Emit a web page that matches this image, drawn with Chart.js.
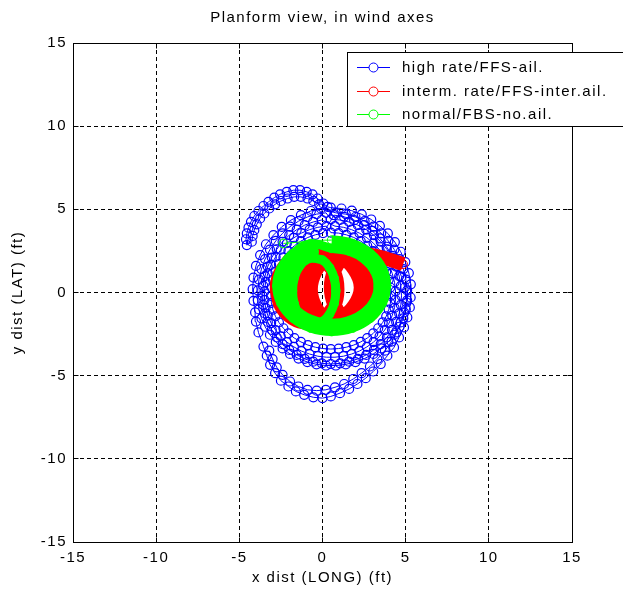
<!DOCTYPE html>
<html lang="en">
<head>
<meta charset="UTF-8" />
<title>Planform view, in wind axes</title>
<script src="https://cdn.jsdelivr.net/npm/chart.js"></script>
<style>
  * { margin: 0; padding: 0; box-sizing: border-box; }
  body { background: #fff; width: 623px; height: 593px; overflow: hidden; }
  #wrap { position: relative; width: 623px; height: 593px; }
</style>
</head>
<body>
<div id="wrap"><canvas id="planform" width="623" height="593"></canvas></div>
<script>
  // axis ticks (ft)
  const xTicks = [-15, -10, -5, 0, 5, 10, 15];
  const yTicks = [-15, -10, -5, 0, 5, 10, 15];

  const chartTitle = "Planform view, in wind axes";
  const seriesNames = ["high rate/FFS-ail.", "interm. rate/FFS-inter.ail.", "normal/FBS-no.ail."];

  // high rate / FFS-ail. : start hook (in and back out), then the passes round the centre
  const highX = [
    -0.2, -0.55, -0.9, -1.3, -1.7, -2.1, -2.5, -2.85, -3.2, -3.5, -3.75, -3.95, -4.1, -4.2, -4.25,
    -4.55, -4.6, -4.55, -4.45, -4.3, -4.1, -3.85, -3.55, -3.25, -2.9, -2.55, -2.15, -1.75, -1.35, -0.95, -0.6, -0.3, 0.05, 0.3,
    0.5, 1.14, 1.76, 2.36, 2.93, 3.45, 3.93, 4.35, 4.7, 4.98, 5.19, 5.31,
    5.3, 5.25, 5.1, 4.9, 4.6, 4.3, 3.9, 3.5, 3.05, 2.6, 2.1, 1.6, 1.05, 0.5,
    0.0, -0.55, -1.1, -1.6, -2.05, -2.5, -2.85, -3.15, -3.35, -3.55, -3.85,
    -4.0, -4.05, -4.15, -4.2, -4.15, -4.0, -3.75, -3.4, -2.95, -2.45, -1.9, -1.3, -0.7, -0.1,
    0.8, 1.4, 1.98, 2.53, 3.06, 3.53, 3.96, 4.32, 4.63, 4.86, 5.01, 5.09,
    5.09, 5.01, 4.86, 4.63, 4.32, 3.96, 3.53, 3.06, 2.53, 1.98, 1.4, 0.8,
    0.21, -0.36, -0.91, -1.44, -1.95, -2.4, -2.81, -3.16, -3.45, -3.67, -3.82, -3.89,
    -3.89, -3.82, -3.67, -3.45, -3.16, -2.81, -2.4, -1.95, -1.44, -0.91, -0.36, 0.21,
    0.5, 1.06, 1.6, 2.13, 2.63, 3.09, 3.5, 3.87, 4.18, 4.43, 4.61, 4.71,
    4.75, 4.71, 4.61, 4.43, 4.18, 3.87, 3.5, 3.09, 2.63, 2.13, 1.6, 1.06,
    0.5, -0.04, -0.56, -1.07, -1.55, -2.0, -2.4, -2.75, -3.05, -3.29, -3.46, -3.56,
    -3.6, -3.56, -3.46, -3.29, -3.05, -2.75, -2.4, -2.0, -1.55, -1.07, -0.56, -0.04,
    0.75, 1.26, 1.75, 2.22, 2.67, 3.07, 3.43, 3.74, 4.0, 4.19, 4.33, 4.39,
    4.39, 4.33, 4.19, 4.0, 3.74, 3.43, 3.07, 2.67, 2.22, 1.75, 1.26, 0.75,
    0.24, -0.28, -0.78, -1.27, -1.72, -2.14, -2.51, -2.82, -3.09, -3.29, -3.42, -3.49,
    -3.49, -3.42, -3.29, -3.09, -2.82, -2.51, -2.14, -1.72, -1.27, -0.78, -0.28, 0.24,
    0.5, 0.97, 1.43, 1.88, 2.3, 2.69, 3.05, 3.35, 3.62, 3.83, 3.98, 4.07,
    4.1, 4.07, 3.98, 3.83, 3.62, 3.35, 3.05, 2.69, 2.3, 1.88, 1.43, 0.97,
    0.5, 0.03, -0.43, -0.88, -1.3, -1.69, -2.05, -2.35, -2.62, -2.83, -2.98, -3.07,
    -3.1, -3.07, -2.98, -2.83, -2.62, -2.35, -2.05, -1.69, -1.3, -0.88, -0.43, 0.03,
    0.7, 1.3, 1.9, 2.5, 3.0, 3.45, 3.85, 4.2, 4.5, 4.75, 4.95, 5.05, 4.9, 4.7, 4.45, 4.15,
    3.75, 3.3, 2.85, 2.35, 1.85, 1.3, 0.75, 0.2, -0.35, -0.9, -1.45, -1.95, -2.4, -2.75, -3.0, -3.2
  ];
  const highY = [
    5.3, 5.5, 5.65, 5.75, 5.75, 5.65, 5.5, 5.3, 5.05, 4.75, 4.45, 4.1, 3.75, 3.4, 3.05,
    2.85, 3.2, 3.55, 3.9, 4.25, 4.6, 4.9, 5.2, 5.45, 5.7, 5.9, 6.05, 6.15, 6.15, 6.05, 5.9, 5.65, 5.35, 5.15,
    5.1, 5.05, 4.92, 4.7, 4.39, 4.0, 3.55, 3.03, 2.45, 1.83, 1.17, 0.49,
    -0.3, -0.9, -1.5, -2.1, -2.7, -3.3, -3.8, -4.3, -4.75, -5.15, -5.5, -5.8, -6.05, -6.25,
    -6.35, -6.3, -6.15, -5.95, -5.65, -5.3, -4.85, -4.35, -3.8, -3.25, -2.4,
    -1.75, -1.2, -0.5, 0.2, 0.9, 1.6, 2.25, 2.9, 3.45, 3.95, 4.35, 4.65, 4.9, 5.05,
    4.79, 4.71, 4.54, 4.29, 3.96, 3.56, 3.1, 2.58, 2.01, 1.41, 0.78, 0.13,
    -0.47, -1.02, -1.55, -2.06, -2.54, -2.97, -3.36, -3.69, -3.97, -4.18, -4.32, -4.39,
    -4.39, -4.32, -4.18, -3.97, -3.69, -3.36, -2.97, -2.54, -2.06, -1.55, -1.02, -0.47,
    0.13, 0.78, 1.41, 2.01, 2.58, 3.1, 3.56, 3.96, 4.29, 4.54, 4.71, 4.79,
    4.4, 4.36, 4.24, 4.05, 3.78, 3.45, 3.05, 2.6, 2.1, 1.56, 0.99, 0.4,
    -0.2, -0.74, -1.26, -1.77, -2.25, -2.7, -3.1, -3.45, -3.75, -3.99, -4.16, -4.26,
    -4.3, -4.26, -4.16, -3.99, -3.75, -3.45, -3.1, -2.7, -2.25, -1.77, -1.26, -0.74,
    -0.2, 0.4, 0.99, 1.56, 2.1, 2.6, 3.05, 3.45, 3.78, 4.05, 4.24, 4.36,
    3.99, 3.92, 3.78, 3.57, 3.29, 2.96, 2.57, 2.14, 1.66, 1.15, 0.62, 0.07,
    -0.44, -0.92, -1.39, -1.84, -2.26, -2.64, -2.98, -3.27, -3.52, -3.7, -3.83, -3.89,
    -3.89, -3.83, -3.7, -3.52, -3.27, -2.98, -2.64, -2.26, -1.84, -1.39, -0.92, -0.44,
    0.07, 0.62, 1.15, 1.66, 2.14, 2.57, 2.96, 3.29, 3.57, 3.78, 3.92, 3.99,
    3.6, 3.57, 3.47, 3.31, 3.09, 2.81, 2.49, 2.11, 1.7, 1.26, 0.78, 0.3,
    -0.2, -0.62, -1.03, -1.43, -1.8, -2.15, -2.46, -2.74, -2.97, -3.16, -3.29, -3.37,
    -3.4, -3.37, -3.29, -3.16, -2.97, -2.74, -2.46, -2.15, -1.8, -1.43, -1.03, -0.62,
    -0.2, 0.3, 0.78, 1.26, 1.7, 2.11, 2.49, 2.81, 3.09, 3.31, 3.47, 3.57,
    4.65, 4.55, 4.35, 4.05, 3.7, 3.25, 2.75, 2.2, 1.6, 0.95, 0.3, -0.6, -1.2, -1.8, -2.4, -2.95,
    -3.5, -4.0, -4.45, -4.85, -5.2, -5.5, -5.7, -5.85, -5.9, -5.85, -5.65, -5.35, -4.95, -4.5, -4.0, -3.5
  ];

  // interm. rate / FFS-inter.ail.
  const intermX = [
    -0.9, 0.0, 0.7, 0.9, 0.7, 0.0, -0.9, -1.8, -2.5, -2.7, -2.5, -1.8,
    -0.2, 1.0, 1.9, 2.3, 1.9, 1.0, -0.2, -1.5, -2.4, -2.75, -2.4, -1.5,
    0.6, 1.6, 2.3, 2.6, 2.3, 1.6, 0.6, -0.4, -1.1, -1.4, -1.1, -0.4,
    1.3, 2.3, 3.0, 3.3, 3.0, 2.3, 1.3, 0.3, -0.4, -0.7, -0.4, 0.3,
    2.0, 2.8, 3.3, 3.5, 3.3, 2.8, 2.0, 1.2, 0.7, 0.5, 0.7, 1.2, 2.0,
    3.0, 3.8, 4.4, 4.85
  ];
  const intermY = [
    2.2, 1.95, 1.2, 0.2, -0.8, -1.55, -1.8, -1.55, -0.8, 0.2, 1.2, 1.95,
    2.5, 2.2, 1.4, 0.3, -0.8, -1.6, -1.9, -1.6, -0.8, 0.3, 1.4, 2.2,
    2.4, 2.1, 1.3, 0.2, -0.9, -1.7, -2.0, -1.7, -0.9, 0.2, 1.3, 2.1,
    2.4, 2.1, 1.3, 0.2, -0.9, -1.7, -2.0, -1.7, -0.9, 0.2, 1.3, 2.1,
    2.3, 2.0, 1.3, 0.3, -0.7, -1.4, -1.7, -1.4, -0.7, 0.3, 1.3, 2.0, 2.3,
    2.25, 2.05, 1.85, 1.7
  ];

  // normal / FBS-no.ail.
  const normalX = [
    -2.35,
    0.55, 1.81, 2.88, 3.6, 3.85, 3.6, 2.88, 1.81, 0.55, -0.71, -1.78, -2.5, -2.75, -2.5, -1.78, -0.71,
    0.55, 1.62, 2.53, 3.14, 3.35, 3.14, 2.53, 1.62, 0.55, -0.52, -1.43, -2.04, -2.25, -2.04, -1.43, -0.52,
    -0.5, 0.0, 0.42, 0.7, 0.8, 0.7, 0.42, 0.0, -0.5, -1.0, -1.42, -1.7, -1.8, -1.7, -1.42, -1.0, -0.5
  ];
  const normalY = [
    2.95,
    3.15, 2.94, 2.34, 1.45, 0.4, -0.65, -1.54, -2.14, -2.35, -2.14, -1.54, -0.65, 0.4, 1.45, 2.34, 2.94,
    2.65, 2.48, 1.99, 1.26, 0.4, -0.46, -1.19, -1.68, -1.85, -1.68, -1.19, -0.46, 0.4, 1.26, 1.99, 2.48,
    2.1, 1.95, 1.51, 0.87, 0.1, -0.67, -1.31, -1.75, -1.9, -1.75, -1.31, -0.67, 0.1, 0.87, 1.51, 1.95, 2.1
  ];

  const toPoints = (xs, ys) => xs.map((x, i) => ({ x: x, y: ys[i] }));
  const FONT = "'Liberation Sans', Arial, sans-serif";
  const colors = ["#0000ff", "#ff0000", "#00ff00"];

  // title, axes box, inward ticks and the boxed legend, like the original figure
  const frameAndLegend = {
    id: "frameAndLegend",
    beforeDraw(chart) {
      chart.ctx.letterSpacing = "1.5px";
    },
    afterDatasetsDraw(chart) {
      const { ctx, chartArea: a, scales } = chart;
      const L = Math.floor(a.left) + 0.5, R = Math.floor(a.right) + 0.5;
      const T = Math.floor(a.top) + 0.5, B = Math.floor(a.bottom) + 0.5;
      ctx.save();
      ctx.setLineDash([]);
      ctx.strokeStyle = "#000";
      ctx.lineWidth = 1;
      ctx.strokeRect(L, T, R - L, B - T);
      ctx.beginPath();
      xTicks.forEach(v => {
        const px = Math.floor(scales.x.getPixelForValue(v)) + 0.5;
        ctx.moveTo(px, B); ctx.lineTo(px, B - 5);
        ctx.moveTo(px, T); ctx.lineTo(px, T + 5);
      });
      yTicks.forEach(v => {
        const py = Math.floor(scales.y.getPixelForValue(v)) + 0.5;
        ctx.moveTo(L, py); ctx.lineTo(L + 5, py);
        ctx.moveTo(R, py); ctx.lineTo(R - 5, py);
      });
      ctx.stroke();

      ctx.font = "15px " + FONT;
      ctx.fillStyle = "#000";
      ctx.textAlign = "center";
      ctx.textBaseline = "middle";
      ctx.fillText(chartTitle, (a.left + a.right) / 2, 18);

      // legend
      const bx = 347.5, by = 52.5, bw = 300, bh = 74;
      ctx.fillStyle = "#fff";
      ctx.fillRect(bx, by, bw, bh);
      ctx.strokeRect(bx, by, bw, bh);
      ctx.textAlign = "left";
      const rows = [67, 91, 114];
      seriesNames.forEach((name, i) => {
        const y = rows[i] + 0.5;
        ctx.strokeStyle = colors[i];
        ctx.beginPath();
        ctx.moveTo(357, y); ctx.lineTo(390, y);
        ctx.stroke();
        ctx.beginPath();
        ctx.arc(373.5, y, 4.5, 0, Math.PI * 2);
        ctx.fillStyle = "#fff";
        ctx.fill();
        ctx.stroke();
        ctx.fillStyle = "#000";
        ctx.fillText(name, 402, rows[i] + 1);
      });
      ctx.restore();
    }
  };

  const axisFont = { family: FONT, size: 15 };

  new Chart(document.getElementById("planform"), {
    type: "scatter",
    data: {
      datasets: [
        {
          label: seriesNames[0],
          data: toPoints(highX, highY),
          showLine: true,
          borderColor: colors[0],
          borderWidth: 1,
          pointRadius: 4.5,
          pointBorderWidth: 1.2,
          pointBorderColor: colors[0],
          pointBackgroundColor: "rgba(0,0,0,0)",
          order: 3
        },
        {
          label: seriesNames[1],
          data: toPoints(intermX, intermY),
          showLine: true,
          tension: 0.4,
          borderColor: colors[1],
          borderWidth: 14,
          pointRadius: 4.3,
          pointBorderWidth: 1,
          pointBorderColor: colors[1],
          pointBackgroundColor: "rgba(0,0,0,0)",
          order: 2
        },
        {
          label: seriesNames[2],
          data: toPoints(normalX, normalY),
          showLine: true,
          tension: 0.4,
          borderColor: colors[2],
          borderWidth: 9,
          segment: { borderWidth: c => (c.p0DataIndex === 0 ? 0 : 9) },
          pointRadius: 4.3,
          pointBorderWidth: 1,
          pointBorderColor: colors[2],
          pointBackgroundColor: "rgba(0,0,0,0)",
          order: 1
        }
      ]
    },
    options: {
      responsive: false,
      animation: false,
      devicePixelRatio: 1,
      layout: { padding: { top: 43, right: 51, bottom: 0, left: 0 } },
      plugins: {
        legend: { display: false },
        tooltip: { enabled: false },
        title: { display: false }
      },
      scales: {
        x: {
          type: "linear",
          min: -15,
          max: 15,
          afterBuildTicks: s => { s.ticks = xTicks.map(v => ({ value: v })); },
          afterFit: s => { s.height = 51; },
          grid: { color: "#000", lineWidth: 1, drawTicks: false },
          border: { display: false, dash: [4, 3] },
          ticks: { color: "#000", font: axisFont, padding: 7, maxRotation: 0 },
          title: {
            display: true,
            text: "x dist (LONG) (ft)",
            color: "#000",
            font: axisFont,
            padding: { top: 0, bottom: 6 }
          }
        },
        y: {
          type: "linear",
          min: -15,
          max: 15,
          afterBuildTicks: s => { s.ticks = yTicks.map(v => ({ value: v })); },
          afterFit: s => { s.width = 73; },
          grid: { color: "#000", lineWidth: 1, drawTicks: false },
          border: { display: false, dash: [4, 3] },
          ticks: { color: "#000", font: axisFont, padding: 6 },
          title: {
            display: true,
            text: "y dist (LAT) (ft)",
            color: "#000",
            font: axisFont,
            padding: { top: 9, bottom: 0 }
          }
        }
      }
    },
    plugins: [frameAndLegend]
  });
</script>
</body>
</html>
